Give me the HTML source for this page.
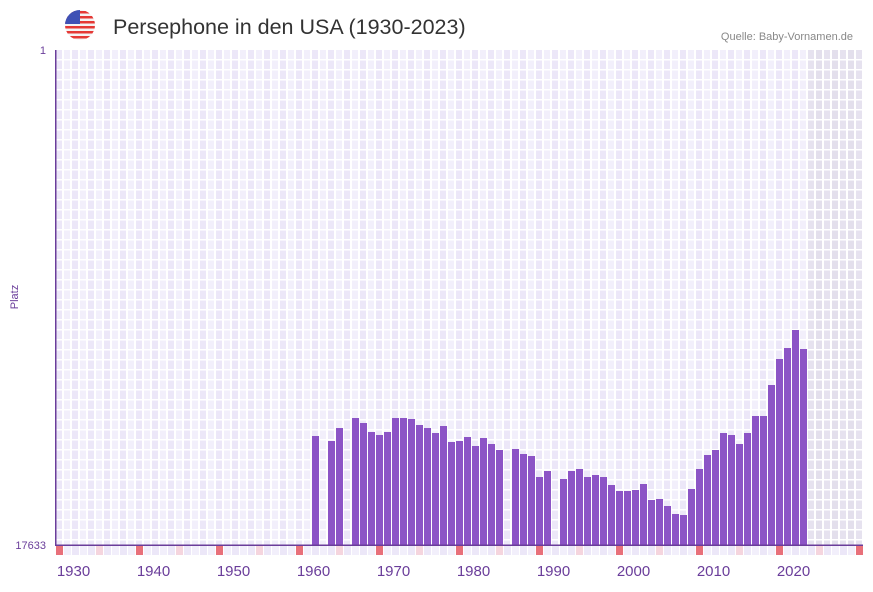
<!DOCTYPE html>
<html><head><meta charset="utf-8"><style>
body{margin:0;background:#fff;width:873px;height:587px;overflow:hidden;font-family:"Liberation Sans",sans-serif}
</style></head><body>
<svg id="s" width="873" height="587" xmlns="http://www.w3.org/2000/svg">
<defs><clipPath id="fc"><circle cx="80" cy="25" r="15"/></clipPath></defs>
<g clip-path="url(#fc)">
<rect x="64" y="9" width="32" height="32" fill="#f4f4f4"/>
<g fill="#e53935"><rect x="64" y="11" width="32" height="2.5"/><rect x="64" y="16" width="32" height="2.5"/><rect x="64" y="21" width="32" height="2.5"/><rect x="64" y="26" width="32" height="2.5"/><rect x="64" y="31" width="32" height="2.5"/><rect x="64" y="36" width="32" height="2.5"/></g>
<rect x="64" y="9" width="16" height="15" fill="#3f51b5"/>
</g>
<text x="113" y="34" font-size="21.5" fill="#333">Persephone in den USA (1930-2023)</text>
<text x="853" y="40" font-size="11" fill="#888" text-anchor="end">Quelle: Baby-Vornamen.de</text>
<text x="46" y="54" font-size="11" fill="#6a3d9a" text-anchor="end">1</text>
<text x="46" y="549" font-size="11" fill="#6a3d9a" text-anchor="end">17633</text>
<text transform="translate(18,297) rotate(-90)" font-size="11" fill="#6a3d9a" text-anchor="middle">Platz</text>
<g id="g"></g>
</svg>
<script>
var g=document.getElementById('g'),h='';
var L=56,T=50,B=545;
h+='<rect x="'+L+'" y="'+T+'" width="807" height="'+(B-T)+'" fill="#ece7f8"/>';
for(var y=1928;y<=2028;y++){var x=L+(y-1928)*8;
 if(y>=2022){h+='<rect x="'+x+'" y="'+T+'" width="8" height="'+(B-T)+'" fill="'+(y%2?'#e3dfec':'#e6e2ef')+'"/>';}
 else if(y%2)h+='<rect x="'+x+'" y="'+T+'" width="8" height="'+(B-T)+'" fill="#f2effb"/>';
 h+='<rect x="'+(x+6)+'" y="'+T+'" width="2" height="'+(B-T)+'" fill="#fff"/>';
 if(y%10==8)h+='<rect x="'+x+'" y="546" width="7" height="9" fill="#e8707a"/>';
 else if(y%10==3)h+='<rect x="'+x+'" y="546" width="7" height="9" fill="#f5d5de"/>';
 else h+='<rect x="'+x+'" y="546" width="7" height="9" fill="'+(y%2?'#f2effb':'#ece7f8')+'"/>';
}
for(var yy=T+9;yy<B;yy+=10)h+='<rect x="'+L+'" y="'+yy+'" width="807" height="1.5" fill="#fff"/>';
var d={1960:436,1962:441,1963:428,1965:418,1966:423,1967:432,1968:435,1969:432,1970:418,1971:418,1972:419,1973:425,1974:428,1975:433,1976:426,1977:442,1978:441,1979:437,1980:446,1981:438,1982:444,1983:450,1985:449,1986:454,1987:456,1988:477,1989:471,1991:479,1992:471,1993:469,1994:477,1995:475,1996:477,1997:485,1998:491,1999:491,2000:490,2001:484,2002:500,2003:499,2004:506,2005:514,2006:515,2007:489,2008:469,2009:455,2010:450,2011:433,2012:435,2013:444,2014:433,2015:416,2016:416,2017:385,2018:359,2019:348,2020:330,2021:349};
for(var k in d){var x=312+(k-1960)*8;h+='<rect x="'+x+'" y="'+d[k]+'" width="7" height="'+(B-d[k])+'" fill="#8c54c6"/>';}
h+='<rect x="55" y="50" width="1.5" height="496" fill="#6a3d9a"/><rect x="55" y="544.5" width="808" height="1.5" fill="#6a3d9a"/>';
for(var y=1930;y<=2020;y+=10){var x=312+(y-1960)*8+1.5;h+='<text x="'+x+'" y="576" font-size="15" fill="#6a3d9a" text-anchor="middle">'+y+'</text>';}
g.innerHTML=h;
</script>
</body></html>
